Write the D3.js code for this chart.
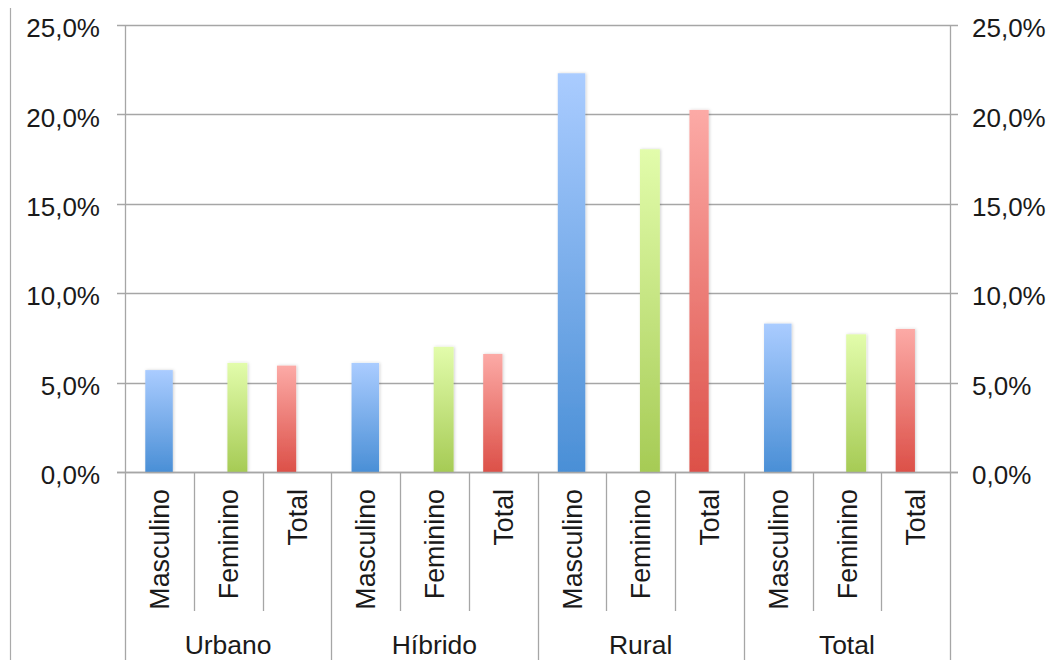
<!DOCTYPE html>
<html>
<head>
<meta charset="utf-8">
<script src="https://cdn.jsdelivr.net/npm/d3@7"></script>
<style>
  html, body { margin: 0; padding: 0; background: #fff; }
  svg { display: block; font-family: "Liberation Sans", Arial, Helvetica, sans-serif; }
</style>
</head>
<body>
<svg id="chart" width="1052" height="660"></svg>
<script>
// ---- Data ----
const groups = ["Urbano", "Híbrido", "Rural", "Total"];
const subcategories = ["Masculino", "Feminino", "Total"];
const masculino = [5.7, 6.1, 22.3, 8.3];
const feminino = [6.1, 7.0, 18.05, 7.7];
const total = [5.95, 6.6, 20.25, 8.0];
const yTicks = [0, 5, 10, 15, 20, 25];

// ---- Layout / style ----
const W = 1052, H = 660;
const plotLeft = 125, plotRight = 950, plotTop = 25, plotBottom = 472;
const seriesStyle = [
  { id: "gBlue",  top: "#aaccff", bot: "#4a8fd6", off: 0.295, w: 0.40 },
  { id: "gGreen", top: "#e2fcab", bot: "#a6cb55", off: 0.49,  w: 0.29 },
  { id: "gRed",   top: "#fcaaa6", bot: "#dc5048", off: 0.21,  w: 0.28 }
];
const seriesValues = [masculino, feminino, total];

const svg = d3.select("#chart");
const defs = svg.append("defs");
seriesStyle.forEach(s => {
  const g = defs.append("linearGradient").attr("id", s.id)
    .attr("x1", 0).attr("y1", 0).attr("x2", 0).attr("y2", 1);
  g.append("stop").attr("offset", "0%").attr("stop-color", s.top);
  g.append("stop").attr("offset", "100%").attr("stop-color", s.bot);
});
const f = defs.append("filter").attr("id", "shadow")
  .attr("x", "-30%").attr("y", "-10%").attr("width", "160%").attr("height", "120%");
f.append("feDropShadow").attr("dx", 1).attr("dy", 0).attr("stdDeviation", 1.5)
  .attr("flood-color", "#000").attr("flood-opacity", 0.18);

// categories: flat list of (group, sub)
const cats = [];
groups.forEach((g, gi) => subcategories.forEach((s, si) => cats.push({ g, gi, s, si, key: gi + "-" + si })));

const x = d3.scaleBand().domain(cats.map(c => c.key)).range([plotLeft, plotRight]).padding(0);
const y = d3.scaleLinear().domain([0, 25]).range([plotBottom, plotTop]);
const bw = x.bandwidth();
const fmt = v => d3.format(".1f")(v).replace(".", ",") + "%";
const gridColor = "#a6a6a6";

// outer left border
svg.append("line").attr("x1", 10.5).attr("x2", 10.5).attr("y1", 8).attr("y2", H)
  .attr("stroke", "#aaa").attr("stroke-width", 1.2);

// gridlines
svg.append("g").selectAll("line").data(yTicks).join("line")
  .attr("x1", plotLeft - 8).attr("x2", plotRight + 8)
  .attr("y1", d => Math.round(y(d)) + 0.5).attr("y2", d => Math.round(y(d)) + 0.5)
  .attr("stroke", gridColor).attr("stroke-width", 1.3);

// left axis
const yAxisL = d3.axisLeft(y).tickValues(yTicks).tickFormat(fmt).tickSize(0).tickPadding(25);
const gL = svg.append("g").attr("transform", `translate(${plotLeft},0)`).call(yAxisL);
gL.select(".domain").remove();
gL.selectAll("text").attr("font-size", 26).attr("fill", "#1a1a1a")
  .attr("font-family", "Liberation Sans, Arial, sans-serif").attr("dy", "0.45em");

const yAxisR = d3.axisRight(y).tickValues(yTicks).tickFormat(fmt).tickSize(0).tickPadding(22);
const gR = svg.append("g").attr("transform", `translate(${plotRight},0)`).call(yAxisR);
gR.select(".domain").remove();
gR.selectAll("text").attr("font-size", 26).attr("fill", "#1a1a1a")
  .attr("font-family", "Liberation Sans, Arial, sans-serif").attr("dy", "0.45em");

// vertical axis lines
[plotLeft, plotRight].forEach(px => {
  svg.append("line").attr("x1", px + 0.5).attr("x2", px + 0.5).attr("y1", plotTop).attr("y2", H)
    .attr("stroke", gridColor).attr("stroke-width", 1.3);
});

// category separators
const sepG = svg.append("g");
cats.forEach((c, i) => {
  if (i === 0) return;
  const px = Math.round(x(c.key)) + 0.5;
  const isGroup = c.si === 0;
  sepG.append("line").attr("x1", px).attr("x2", px).attr("y1", plotBottom)
    .attr("y2", isGroup ? H : 611)
    .attr("stroke", gridColor).attr("stroke-width", 1.3);
});

// bars
const barData = cats.map(c => ({ ...c, v: seriesValues[c.si][c.gi] }));
svg.append("g").selectAll("rect").data(barData).join("rect")
  .attr("x", d => x(d.key) + bw * seriesStyle[d.si].off)
  .attr("width", d => bw * seriesStyle[d.si].w)
  .attr("y", d => y(d.v))
  .attr("height", d => y(0) - y(d.v))
  .attr("fill", d => `url(#${seriesStyle[d.si].id})`)
  .attr("filter", "url(#shadow)");

// redraw baseline on top
svg.append("line").attr("x1", plotLeft - 8).attr("x2", plotRight + 8)
  .attr("y1", Math.round(y(0)) + 0.5).attr("y2", Math.round(y(0)) + 0.5)
  .attr("stroke", gridColor).attr("stroke-width", 1.3);

// category labels (rotated)
svg.append("g").selectAll("text").data(cats).join("text")
  .attr("transform", d => `translate(${x(d.key) + bw / 2},489) rotate(-90)`)
  .attr("text-anchor", "end").attr("dy", "0.36em")
  .attr("font-size", 26.8).attr("fill", "#1a1a1a")
  .text(d => d.s);

// group labels
const groupScale = d3.scaleBand().domain(groups).range([plotLeft, plotRight]).padding(0);
svg.append("g").selectAll("text").data(groups).join("text")
  .attr("x", d => groupScale(d) + groupScale.bandwidth() / 2)
  .attr("y", 654)
  .attr("text-anchor", "middle").attr("font-size", 26.5).attr("fill", "#1a1a1a")
  .text(d => d);
</script>
</body>
</html>
